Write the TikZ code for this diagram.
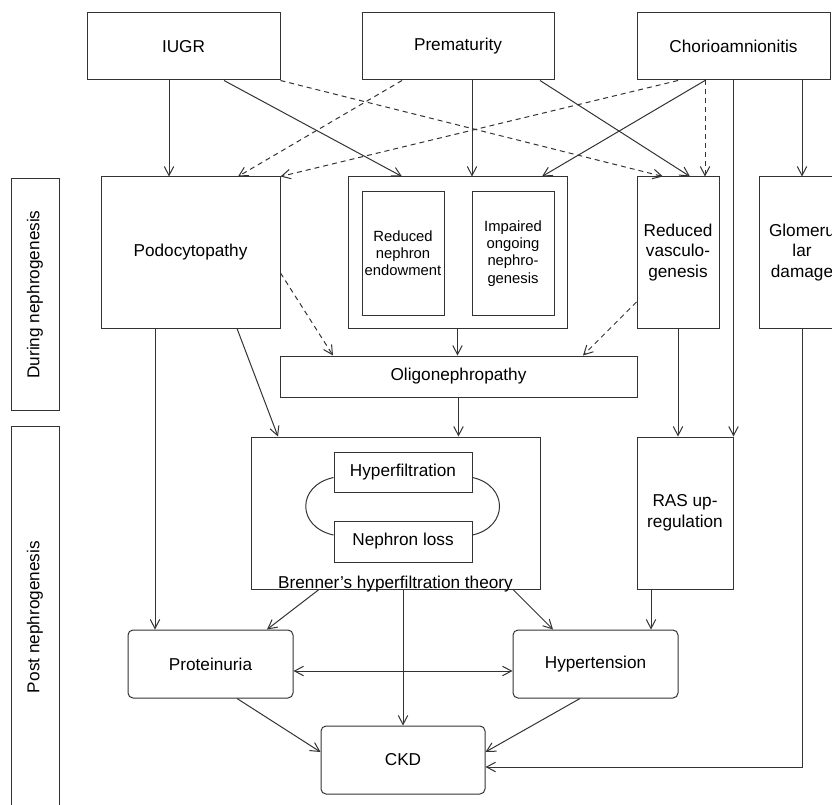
\documentclass[tikz,border=0pt]{standalone}
\usepackage{fontspec}
\setmainfont{Liberation Sans}
\usetikzlibrary{arrows.meta}
\begin{document}
\begin{tikzpicture}[x=1pt,y=-1pt,every node/.style={align=center,font=\fontsize{17.2}{20.5}\selectfont},
	>={Straight Barb[length=9pt,width=9.5pt]},
	bx/.style={draw=black!80,line width=1pt,inner sep=0pt},
	rb/.style={bx,rounded corners=5pt},
	sm/.style={font=\fontsize{14.8}{17.2}\selectfont},
	ar/.style={draw=black!80,line width=1pt,->},
	ab/.style={ar,<->},
	da/.style={ar,dash pattern=on 5pt off 4pt}]
		\useasboundingbox(0,0)rectangle(832,805);
		\clip(0,0)rectangle(832,805);
		
		% causes
		\node[bx,minimum width=193pt,minimum height=67pt](i1)at(183.5,46.5){IUGR};
		\node[bx,minimum width=192pt,minimum height=67pt](i2)at(458,46.5){Prematurity};
		\node[bx,minimum width=193pt,minimum height=67pt](i3)at(733.5,46.5){Chorioamnionitis};
		
		% during nephrogenesis
		\node[bx,minimum width=179pt,minimum height=151pt](m1)at(190.5,252.5){Podocytopathy};
		\node[bx,minimum width=219pt,minimum height=151pt](m2)at(457.5,252.5){};
		\node[bx,sm,minimum width=82pt,minimum height=123pt](n1)at(403,253.5){Reduced\\nephron\\endowment};
		\node[bx,sm,minimum width=82pt,minimum height=123pt](n2)at(513,253.5){Impaired\\ongoing\\nephro-\\genesis};
		\node[bx,minimum width=82pt,minimum height=151pt](m3)at(678,252.5){Reduced\\vasculo-\\genesis};
		\node[bx,minimum width=86pt,minimum height=151pt](m4)at(802,252.5){Glomeru\\lar\\damage};
		\node[bx,minimum width=357pt,minimum height=41pt](o1)at(458.5,376.5){Oligonephropathy};
		
		\node[bx,rotate=90,minimum width=231pt,minimum height=48pt](s1)at(35,294.5){During nephrogenesis};
		\node[bx,rotate=90,minimum width=382pt,minimum height=48pt](s2)at(35,617){Post nephrogenesis};
		
		% post nephrogenesis
		\node[bx,minimum width=289pt,minimum height=152pt](h1)at(395.5,513){};
		\node[bx,minimum width=138pt,minimum height=40pt](h2)at(403,472){Hyperfiltration};
		\node[bx,minimum width=138pt,minimum height=41pt](h3)at(403,541.5){Nephron loss};
		\node[anchor=base,inner sep=0pt](h4)at([yshift=1pt]h1.south){Brenner’s hyperfiltration theory};
		\node[bx,minimum width=96pt,minimum height=152pt](r1)at(685,513){RAS up-\\regulation};
		\node[rb,minimum width=165pt,minimum height=68pt](p1)at(210.5,664){Proteinuria};
		\node[rb,minimum width=165pt,minimum height=68pt](p2)at(595.5,664){Hypertension};
		\node[rb,minimum width=164pt,minimum height=68pt](k1)at(403,760){CKD};
		
		\draw[draw=black!80,line width=1pt]([yshift=-5.5pt]h2.west)..controls+(-37,8)and+(-37,-8)..([yshift=6.5pt]h3.west);
		\draw[draw=black!80,line width=1pt]([yshift=-5.5pt]h2.east)..controls+(36,8)and+(36,-8)..([yshift=6.5pt]h3.east);
		
		% from the causes
		\draw[ar]([xshift=-14.5pt]i1.south)--([xshift=-21.5pt]m1.north);
		\draw[ar]([xshift=40.5pt]i1.south)--([xshift=-55.5pt]m2.north);
		\draw[da](i1.south east)--([xshift=-15pt]m3.north);
		\draw[ar]([xshift=14pt]i2.south)--([xshift=14.5pt]m2.north);
		\draw[da]([xshift=-56pt]i2.south)--([xshift=47.5pt]m1.north);
		\draw[ar]([xshift=82pt]i2.south)--([xshift=12pt]m3.north);
		\draw[da]([xshift=-55.5pt]i3.south)--(m1.north east);
		\draw[ar]([xshift=-28.5pt]i3.south)--([xshift=84.5pt]m2.north);
		\draw[da]([xshift=-28.5pt]i3.south)--([xshift=27pt]m3.north);
		\draw[ar](r1.north east|-i3.south)--(r1.north east);
		\draw[ar](m4.north|-i3.south)--(m4.north);
		
		% to oligonephropathy and below
		\draw[da]([yshift=-20.5pt]m1.east)--([xshift=-125.5pt]o1.north);
		\draw[ar](m2.south)--(m2.south|-o1.north);
		\draw[da]([yshift=-49.5pt]m3.west)--([xshift=124.5pt]o1.north);
		\draw[ar]([xshift=-35.5pt]m1.south)--([xshift=-55.5pt]p1.north);
		\draw[ar]([xshift=46.5pt]m1.south)--([xshift=-117.5pt]h1.north);
		\draw[ar](o1.south)--(o1.south|-h1.north);
		\draw[ar](m3.south)--(m3.south|-r1.north);
		\draw[ar](m4.south)|-([yshift=-7pt]k1.east);
		
		\draw[ar]([xshift=-76.5pt]h1.south)--([xshift=56.5pt]p1.north);
		\draw[ar](k1.north|-h1.south)--(k1.north);
		\draw[ar]([xshift=117.5pt]h1.south)--([xshift=-42.5pt]p2.north);
		\draw[ar]([xshift=-34pt]r1.south)--([xshift=55.5pt]p2.north);
		\draw[ab]([yshift=-7pt]p1.east)--([yshift=-7pt]p2.west);
		\draw[ar]([xshift=26.5pt]p1.south)--([yshift=8pt]k1.west);
		\draw[ar]([xshift=-15.5pt]p2.south)--([yshift=8pt]k1.east);
	\end{tikzpicture}
\end{document}
